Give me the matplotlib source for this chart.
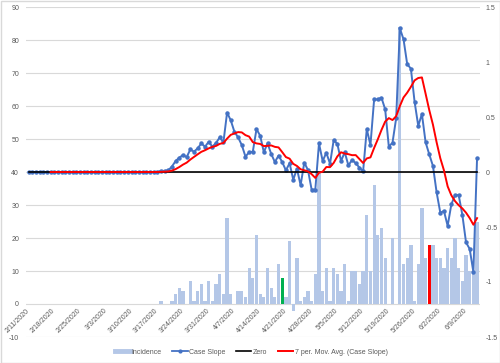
import matplotlib
matplotlib.use('Agg')
import matplotlib.pyplot as plt
from matplotlib.lines import Line2D
from matplotlib.patches import Rectangle
import numpy as np
import pandas as pd

plt.rcParams['font.family'] = ['Liberation Sans Narrow', 'Liberation Sans', 'DejaVu Sans']
plt.rcParams['axes.unicode_minus'] = False

# ---------------- data ----------------
incidence = [0] * 36 + [
    1, 0, 0, 1, 3, 5, 4, 0, 7, 1, 4, 6, 1, 7, 1, 6, 9, 3, 26, 3,      # 36-55
    0, 4, 4, 2, 11, 8, 21, 3, 2, 11, 5, 2, 12, 8, 2, 19, -2, 14, 1, 2, # 56-75
    4, 1, 9, 40, 4, 11, 1, 11, 9, 4, 12, 1, 10, 10, 6, 10, 27, 10, 36, 21,  # 76-95
    23, 14, 0, 20, 0, 84, 12, 14, 18, 1, 12, 29, 14, 18, 18, 14, 14, 11, 17, 14,  # 96-115
    20, 11, 7, 15, 10, 10, 25]                                          # 116-122

case_slope = [0.0] * 36 + [
    0.01, 0.01, 0.015, 0.05, 0.10, 0.13, 0.155, 0.135, 0.205, 0.185,      # 36-45
    0.215, 0.26, 0.23, 0.275, 0.23, 0.265, 0.315, 0.27, 0.54, 0.47,       # 46-55
    0.365, 0.315, 0.245, 0.14, 0.18, 0.185, 0.39, 0.33, 0.18, 0.26,       # 56-65
    0.165, 0.09, 0.15, 0.09, 0.015, 0.08, -0.07, 0.03, -0.12, 0.085,      # 66-75
    0.018, -0.16, -0.16, 0.26, 0.10, 0.175, 0.075, 0.29, 0.255, 0.10,     # 76-85
    0.18, 0.06, 0.11, 0.08, 0.04, 0.005, 0.39, 0.245, 0.66, 0.66,         # 86-95
    0.675, 0.57, 0.23, 0.267, 0.49, 1.306, 1.206, 0.98, 0.94, 0.64,       # 96-105
    0.42, 0.527, 0.27, 0.16, 0.055, -0.185, -0.37, -0.355, -0.49, -0.295, # 106-115
    -0.21, -0.21, -0.39, -0.64, -0.70, -0.91, 0.125]                     # 116-122

zero_line = [0.0] * len(case_slope)

tick_labels = ['2/11/2020', '2/18/2020', '2/25/2020', '3/3/2020', '3/10/2020',
               '3/17/2020', '3/24/2020', '3/31/2020', '4/7/2020', '4/14/2020',
               '4/21/2020', '4/28/2020', '5/5/2020', '5/12/2020', '5/19/2020',
               '5/26/2020', '6/2/2020', '6/9/2020']

left_ticks = [-10, 0, 10, 20, 30, 40, 50, 60, 70, 80, 90]
right_ticks = [-1.5, -1, -0.5, 0, 0.5, 1, 1.5]
right_tick_labels = ['-1.5', '-1', '-0.5', '0', '0.5', '1', '1.5']

green_day = 69
red_day = 109

# ---------------- plot ----------------
N = len(incidence)
x = np.arange(N)
mov_avg = pd.Series(case_slope).rolling(7).mean()

bar_blue = '#B4C7E7'
txt_grey = '#595959'
bar_colors = [bar_blue] * N
bar_colors[green_day] = '#00B050'
bar_colors[red_day] = '#FF0000'

fig = plt.figure(figsize=(5, 3.63), dpi=100)
ax = fig.add_axes([26 / 500, 1 - 337 / 363, 454 / 500, 330 / 363])
ax.bar(x, incidence, width=0.88, color=bar_colors, zorder=2)
ax.set_ylim(-10, 90)
ax.set_yticks(left_ticks)
ax.set_yticklabels([str(t) for t in left_ticks])
ax.set_xlim(-0.7, N - 0.2)
ax.yaxis.grid(True, color='#D9D9D9', lw=0.8)
ax.set_axisbelow(True)
for s in ax.spines.values():
    s.set_visible(False)
ax.spines['bottom'].set_position(('data', 0))
ax.set_xticks(np.arange(0, N, 7)[:len(tick_labels)])
ax.set_xticklabels(tick_labels, rotation=45, ha='right', va='center',
                   rotation_mode='anchor', fontsize=5, color=txt_grey)
ax.tick_params(axis='x', length=0, pad=4)
ax.tick_params(axis='y', length=0, labelsize=5, labelcolor=txt_grey, pad=5)

ax2 = ax.twinx()
ax2.plot(x, case_slope, color='#4472C4', lw=1.4, marker='o', ms=2.2, zorder=3)
ax2.plot(x, zero_line, color='black', lw=1.2, zorder=4)
ax2.plot(x, mov_avg, color='#FF0000', lw=1.4, zorder=5)
ax2.set_ylim(-1.5, 1.5)
ax2.set_yticks(right_ticks)
ax2.set_yticklabels(right_tick_labels)
for s in ax2.spines.values():
    s.set_visible(False)
ax2.tick_params(axis='y', length=0, labelsize=5, labelcolor=txt_grey, pad=4)

handles = [Line2D([], [], color=bar_blue, lw=3.5),
           Line2D([], [], color='#4472C4', lw=1.3, marker='o', ms=2.0),
           Line2D([], [], color='black', lw=1.2),
           Line2D([], [], color='#FF0000', lw=1.4)]
labels = ['Incidence', 'Case Slope', 'Zero', '7 per. Mov. Avg. (Case Slope)']
fig.legend(handles, labels, loc='center', bbox_to_anchor=(0.503, 0.03), ncol=4,
           frameon=False, fontsize=5, handlelength=2.2, handletextpad=0.25,
           columnspacing=1.5, labelcolor=txt_grey)

fig.patches.append(Rectangle((0.001, 0.001), 0.998, 0.997, transform=fig.transFigure,
                             fill=False, edgecolor='#D9D9D9', lw=1))

fig.savefig('out.png', dpi=100)
